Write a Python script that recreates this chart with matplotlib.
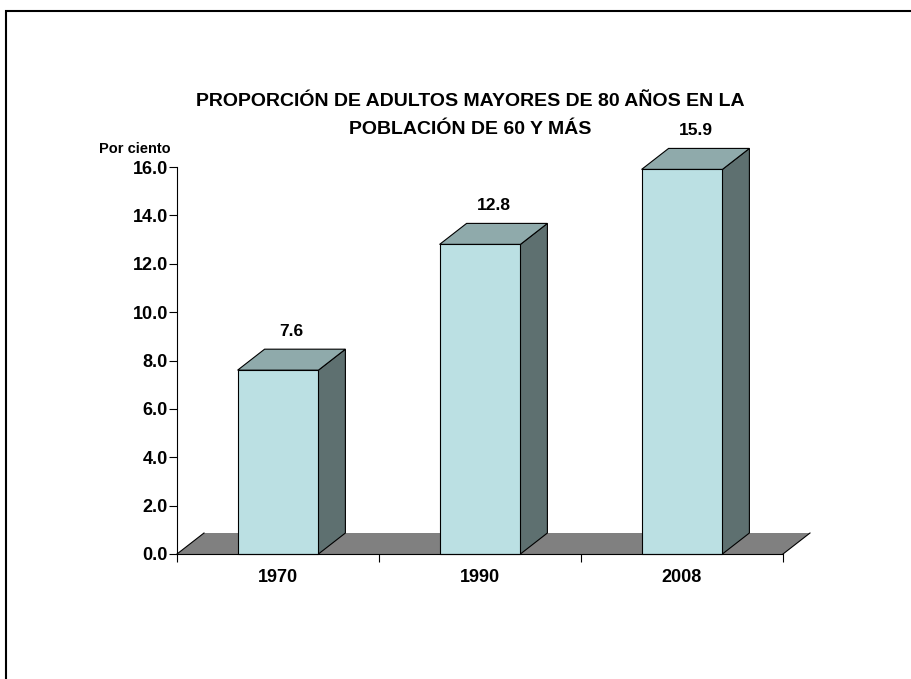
import matplotlib
matplotlib.use('Agg')
from matplotlib import pyplot as plt
from matplotlib.patches import Polygon, Rectangle

plt.rcParams['font.family'] = ['Liberation Sans', 'DejaVu Sans']
plt.rcParams['font.weight'] = 'bold'

# data
years = ['1970', '1990', '2008']
values = [7.6, 12.8, 15.9]
yticks = [0, 2, 4, 6, 8, 10, 12, 14, 16]

front_color = '#bbe0e3'
top_color = '#8faaab'
side_color = '#5e7070'
floor_color = '#808080'

fig = plt.figure(figsize=(9.11, 6.79), dpi=100)
ax = fig.add_axes([177/911, 1-554/679, 606/911, 387/679])
ax.set_xlim(0, 3)
ax.set_ylim(0, 16)

# depth of the fake 3d in data units (about 27 x 21 px)
dx = 27/202
dy = 21/(387/16)
w = 0.4

# floor
floor = Polygon([(0, 0), (3, 0), (3+dx, dy), (dx, dy)], closed=True,
                facecolor=floor_color, edgecolor='none', clip_on=False, zorder=1)
ax.add_patch(floor)
ax.plot([0, dx], [0, dy], color='black', lw=0.8, clip_on=False, zorder=1.5)
ax.plot([3, 3+dx], [0, dy], color='black', lw=0.8, clip_on=False, zorder=1.5)

for i, v in enumerate(values):
    c = i + 0.5
    x0, x1 = c - w/2, c + w/2
    side = Polygon([(x1, 0), (x1+dx, dy), (x1+dx, v+dy), (x1, v)], closed=True,
                   facecolor=side_color, edgecolor='black', lw=0.8, clip_on=False, zorder=2)
    top = Polygon([(x0, v), (x1, v), (x1+dx, v+dy), (x0+dx, v+dy)], closed=True,
                  facecolor=top_color, edgecolor='black', lw=0.8, clip_on=False, zorder=2)
    front = Rectangle((x0, 0), w, v, facecolor=front_color, edgecolor='black',
                      lw=0.8, clip_on=False, zorder=3)
    ax.add_patch(side)
    ax.add_patch(top)
    ax.add_patch(front)
    ax.annotate('%.1f' % v, (c + dx/2, v + dy), xytext=(0, 13), textcoords='offset points',
                ha='center', va='center', fontsize=12.5, fontweight='bold',
                annotation_clip=False)

# axes styling
for s in ['top', 'right']:
    ax.spines[s].set_visible(False)
ax.spines['left'].set_linewidth(0.8)
ax.spines['bottom'].set_linewidth(0.8)
ax.spines['bottom'].set_zorder(4)

ax.set_yticks(yticks)
ax.set_yticklabels(['%.1f' % t for t in yticks], fontsize=13, fontweight='bold')
ax.tick_params(axis='y', direction='out', length=5.5, width=0.8, pad=1)

ax.set_xticks([0, 1, 2, 3])
ax.set_xticklabels([])
ax.tick_params(axis='x', which='major', direction='out', length=6, width=0.8)
ax.set_xticks([0.5, 1.5, 2.5], minor=True)
ax.set_xticklabels(years, minor=True, fontsize=13, fontweight='bold')
ax.tick_params(axis='x', which='minor', length=0, pad=11)

fig.text(171/911, 1-149/679, 'Por ciento', ha='right', va='center', fontsize=10.5, fontweight='bold')
fig.text(470/911, 1-102/679, 'PROPORCIÓN DE ADULTOS MAYORES DE 80 AÑOS EN LA',
         ha='center', va='center', fontsize=14, fontweight='bold')
fig.text(470/911, 1-129/679, 'POBLACIÓN DE 60 Y MÁS',
         ha='center', va='center', fontsize=14, fontweight='bold')

# outer frame (runs off the right and bottom of the picture)
frame = Rectangle((5.5/911, -0.05), 1.0, 1 - 11/679 + 0.05, transform=fig.transFigure,
                  fill=False, edgecolor='black', lw=1.5, clip_on=False)
fig.patches.append(frame)

fig.savefig('out.png', dpi=100)
